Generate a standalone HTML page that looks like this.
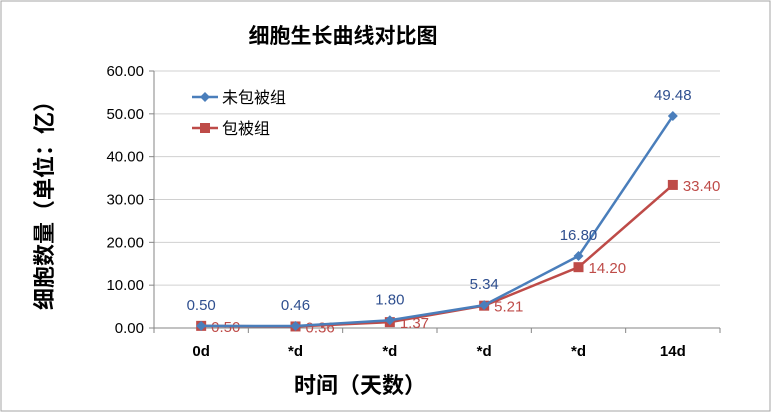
<!DOCTYPE html>
<html><head><meta charset="utf-8"><style>
body{margin:0;background:#fff}
svg{display:block;font-family:"Liberation Sans","Noto Sans CJK SC",sans-serif}
</style></head><body>
<svg id="chart" width="772" height="413">
<rect x="1" y="1" width="769" height="410" fill="#fff" stroke="#a6a6a6"/>
<text x="343" y="43" text-anchor="middle" font-size="21" font-weight="bold" fill="#000">细胞生长曲线对比图</text>
<text transform="translate(52,200) rotate(-90)" text-anchor="middle" font-size="22" font-weight="bold" fill="#000">细胞数量（单位：亿）</text>
<text x="360" y="393" text-anchor="middle" font-size="22" font-weight="bold" fill="#000">时间（天数）</text>
<g id="grid"></g><g id="axes"></g><g id="series"></g>
<g>
<line x1="192" y1="97" x2="218" y2="97" stroke="#4a7ebb" stroke-width="2.5"/>
<path d="M205 92 L210 97 L205 102 L200 97Z" fill="#4a7ebb"/>
<text x="222" y="103" font-size="16" fill="#000">未包被组</text>
<line x1="192" y1="128" x2="218" y2="128" stroke="#be4b48" stroke-width="2.5"/>
<rect x="200" y="123" width="10" height="10" fill="#be4b48"/>
<text x="222" y="134" font-size="16" fill="#000">包被组</text>
</g>
</svg>
<script>
const categories=["0d","*d","*d","*d","*d","14d"];
const uncoated=[0.50,0.46,1.80,5.34,16.80,49.48];
const coated=[0.50,0.36,1.37,5.21,14.20,33.40];
const yTicks=[0,10,20,30,40,50,60];
const NS="http://www.w3.org/2000/svg";
const L=154,R=720,T=71,B=328,yMax=60;
const xs=i=>L+(R-L)/categories.length*(i+0.5);
const ys=v=>B-(B-T)*v/yMax;
function mk(t,a,p){const e=document.createElementNS(NS,t);for(const k in a)e.setAttribute(k,a[k]);p.appendChild(e);return e;}
const grid=document.getElementById('grid'),axes=document.getElementById('axes'),ser=document.getElementById('series');
yTicks.forEach(v=>{
 const g=mk('line',{x1:L,x2:R,y1:ys(v),y2:ys(v),stroke:v===0?'#868686':'#d0d0d0','stroke-width':1},grid);
 
 
 mk('line',{x1:L-5,x2:L,y1:ys(v),y2:ys(v),stroke:'#868686'},axes);
 const t=mk('text',{x:L-10,y:ys(v)+5,'text-anchor':'end','font-size':15,fill:'#000'},axes);
 t.textContent=v.toFixed(2);
 
 
});
mk('line',{x1:L,x2:L,y1:T,y2:B,stroke:'#868686'},axes);
for(let i=0;i<=categories.length;i++){const x=L+(R-L)/categories.length*i;mk('line',{x1:x,x2:x,y1:B,y2:B+5,stroke:'#868686'},axes);}
categories.forEach((c,i)=>{
 const t=mk('text',{x:xs(i),y:B+28,'text-anchor':'middle','font-size':15,'font-weight':'bold',fill:'#000'},axes);
 t.textContent=c;
 
 
});
function draw(data,color,labelColor,name,marker,labelFn){
 const p=mk('polyline',{points:data.map((v,i)=>xs(i)+','+ys(v)).join(' '),fill:'none',stroke:color,'stroke-width':2.5},ser);
 
 
 data.forEach((v,i)=>{
  const x=xs(i),y=ys(v);let m;
  if(marker==='d')m=mk('path',{d:`M${x} ${y-5}L${x+5} ${y}L${x} ${y+5}L${x-5} ${y}Z`,fill:color},ser);
  else m=mk('rect',{x:x-5,y:y-5,width:10,height:10,fill:color},ser);
  
  
  const [lx,ly,anc]=labelFn(x,y);
  const t=mk('text',{x:lx,y:ly,'text-anchor':anc,'font-size':15,fill:labelColor},ser);
  t.textContent=v.toFixed(2);
  
  
 });
}
draw(coated,'#be4b48','#be4b48','coated','s',(x,y)=>[x+10,y+6,'start']);
draw(uncoated,'#4a7ebb','#2f4f8f','uncoated','d',(x,y)=>[x,y-16,'middle']);
</script>
</body></html>
